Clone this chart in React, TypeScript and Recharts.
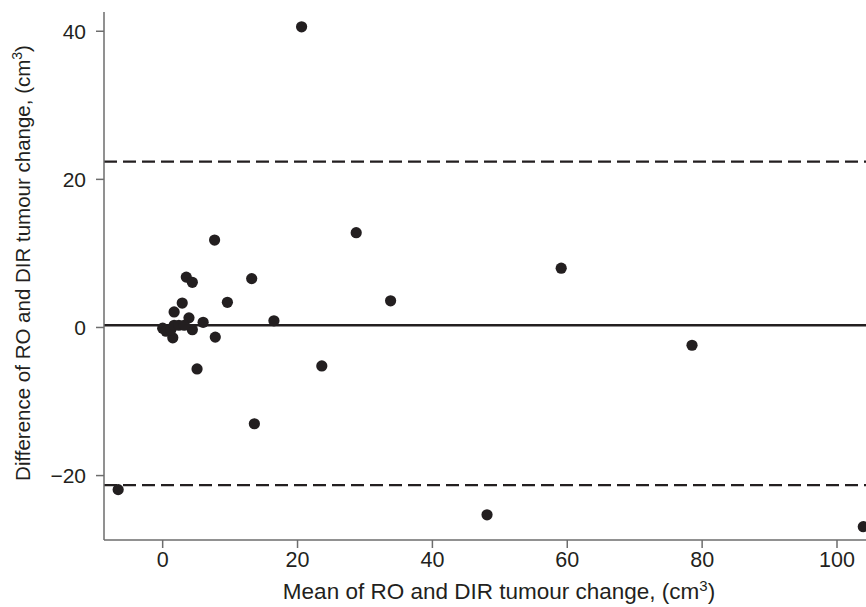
import React from 'react';
import { ScatterChart, Scatter, XAxis, YAxis, ReferenceLine, Label } from 'recharts';

const meanValues = [
  20.6, 7.7, 28.7, 59.1, 13.2, 3.5, 4.4, 9.6, 2.9, 33.8, 16.5, 6.0, 3.9, 1.7, 7.8, 1.5,
  23.6, 5.1, 13.6, -6.6, 48.1, 103.9, 78.5, 4.4, 0.0, 0.5, 1.2, 1.7, 2.4, 3.2,
];
const diffValues = [
  40.6, 11.8, 12.8, 8.0, 6.6, 6.8, 6.1, 3.4, 3.3, 3.6, 0.9, 0.7, 1.3, 2.1, -1.3, -1.4,
  -5.2, -5.6, -13.0, -21.9, -25.3, -26.9, -2.4, -0.3, -0.1, -0.5, -0.3, 0.3, 0.3, 0.3,
];
const xTicks = [0, 20, 40, 60, 80, 100];
const yTicks = [-20, 0, 20, 40];
const meanDiff = 0.3;
const upperLimit = 22.4;
const lowerLimit = -21.3;

const points = meanValues.map((x, i) => ({ x, y: diffValues[i] }));

const INK = '#231f20';
const AXIS = '#6d6d6d';
const FONT = '"Liberation Sans", Arial, sans-serif';

const fmt = (v: number) => (v < 0 ? '\u2212' + Math.abs(v) : String(v));

const XTick = (props: any) => {
  const { x, y, payload } = props;
  return (
    <text x={x} y={y + 17} textAnchor="middle" fill={INK}
      style={{ fontFamily: FONT, fontSize: 21.5 }}>
      {fmt(payload.value)}
    </text>
  );
};

const YTick = (props: any) => {
  const { x, y, payload } = props;
  return (
    <text x={x - 8} y={y + 7.5} textAnchor="end" fill={INK}
      style={{ fontFamily: FONT, fontSize: 21 }}>
      {fmt(payload.value)}
    </text>
  );
};

const XLabel = (props: any) => {
  const vb = props.viewBox || {};
  const cx = vb.x + vb.width / 2 + 14;
  return (
    <text x={cx} y={vb.y + 59} textAnchor="middle" fill={INK}
      style={{ fontFamily: FONT, fontSize: 22.5 }}>
      Mean of RO and DIR tumour change, (cm<tspan dy={-8} fontSize={15}>3</tspan><tspan dy={8}>)</tspan>
    </text>
  );
};

const YLabel = (props: any) => {
  const vb = props.viewBox || {};
  const cy = vb.y + vb.height / 2 - 13;
  const lx = 30;
  return (
    <text x={lx} y={cy} textAnchor="middle" fill={INK} transform={`rotate(-90 ${lx} ${cy})`}
      style={{ fontFamily: FONT, fontSize: 20.5 }}>
      Difference of RO and DIR tumour change, (cm<tspan dy={-8} fontSize={14}>3</tspan><tspan dy={8}>)</tspan>
    </text>
  );
};

const Dot = (props: any) => <circle cx={props.cx} cy={props.cy} r={5.6} fill={INK} />;

export default function App() {
  return (
    <div style={{ position: 'absolute', left: 0, top: 0, width: 866, height: 607, background: '#fff' }}>
      <ScatterChart width={866} height={607} margin={{ top: 12, right: 0, bottom: 0, left: 0 }}>
        <XAxis type="number" dataKey="x" domain={[-8.7, 104.3]} ticks={xTicks} allowDataOverflow
          height={67} tick={<XTick />} tickSize={8}
          axisLine={{ stroke: AXIS, strokeWidth: 1.5 }} tickLine={{ stroke: AXIS, strokeWidth: 1.5 }}>
          <Label content={<XLabel />} />
        </XAxis>
        <YAxis type="number" dataKey="y" domain={[-28.7, 42.6]} ticks={yTicks} allowDataOverflow
          width={104} tick={<YTick />} tickSize={8}
          axisLine={{ stroke: AXIS, strokeWidth: 1.5 }} tickLine={{ stroke: AXIS, strokeWidth: 1.5 }}>
          <Label content={<YLabel />} />
        </YAxis>
        <ReferenceLine y={meanDiff} stroke={INK} strokeWidth={2.5} />
        <ReferenceLine y={upperLimit} stroke={INK} strokeWidth={2.2} strokeDasharray="13 6" />
        <ReferenceLine y={lowerLimit} stroke={INK} strokeWidth={2.2} strokeDasharray="13 6" />
        <Scatter data={points} shape={<Dot />} isAnimationActive={false} />
      </ScatterChart>
    </div>
  );
}
